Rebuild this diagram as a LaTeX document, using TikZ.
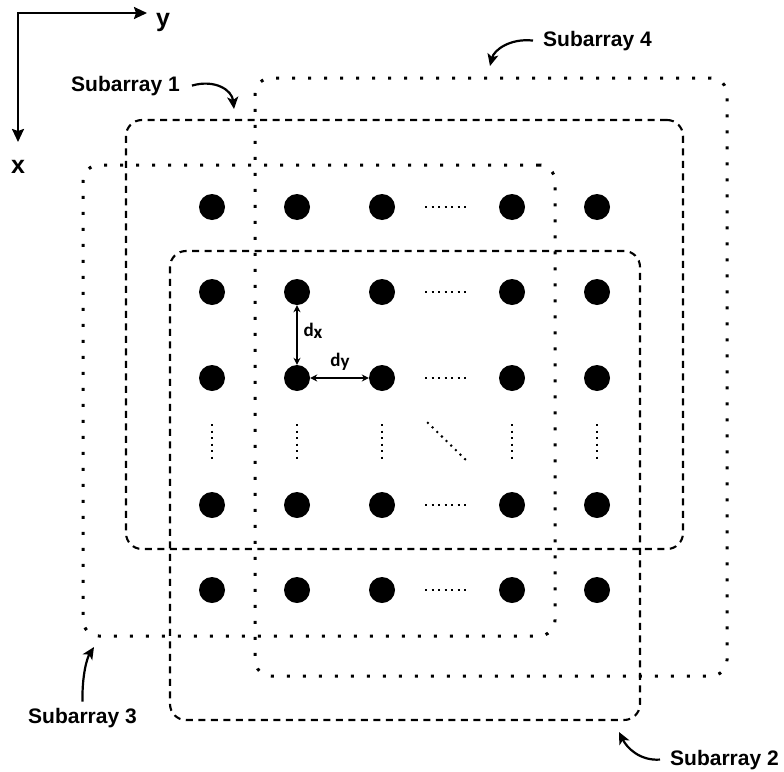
\documentclass[tikz,border=0pt]{standalone}
\usepackage{fontspec}
\setmainfont{Liberation Sans}
\newfontfamily\calfont{Carlito}
\usetikzlibrary{arrows.meta}

\begin{document}
\begin{tikzpicture}[x=1pt,y=-1pt,
  element/.style={circle,fill=black,inner sep=0pt,minimum size=26pt},
  dotbox/.style={draw,line width=3pt,dash pattern=on 3pt off 13pt,
    rounded corners=16pt,inner sep=0pt},
  dashbox/.style={draw,line width=2.1pt,dash pattern=on 7pt off 5.5pt,
    rounded corners=16pt,inner sep=0pt},
  gapdots/.style={line width=2pt,dash pattern=on 2pt off 4.5pt},
  boxlabel/.style={inner sep=0pt,anchor=base west,
    font=\fontsize{21}{25}\selectfont\bfseries},
  axislabel/.style={inner sep=0pt,anchor=base west,
    font=\fontsize{25}{29}\selectfont\bfseries},
  spacing/.style={inner sep=0pt,font=\fontsize{19}{21}\selectfont\calfont\bfseries},
  pointer/.style={line width=2.2pt,-{Stealth[length=12pt,width=11pt,inset=3pt]}},
  axis/.style={line width=2.2pt,{Stealth[length=13pt,width=12pt,inset=2pt]}-{Stealth[length=13pt,width=12pt,inset=2pt]}},
  gaparrow/.style={line width=1.3pt,{Stealth[length=7pt,width=7pt]}-{Stealth[length=7pt,width=7pt]}}
]
\useasboundingbox (0,0) rectangle (784,771);

% coordinate axes
\coordinate (origin) at (18,13);
\coordinate (ytip) at (147,13);
\coordinate (xtip) at (18,142);
\draw[axis] (ytip) -- (origin) -- (xtip);
\node[axislabel] (ylab) at (156,26) {y};
\node[axislabel] (xlab) at (11,173) {x};

% subarray frames
\node[dotbox,minimum width=472pt,minimum height=598pt] (sub4) at (491,377) {};
\node[dashbox,minimum width=557pt,minimum height=429pt] (sub1) at (404.5,334.5) {};
\node[dotbox,minimum width=472pt,minimum height=471pt] (sub3) at (319,400.5) {};
\node[dashbox,minimum width=470pt,minimum height=469pt] (sub2) at (405,485.5) {};

% array elements
\foreach \r/\yy in {1/207,2/292,3/378,4/505,5/590}{
  \foreach \c/\xx in {1/212,2/297,3/382,4/512,5/597}{
    \node[element] (d\r\c) at (\xx,\yy) {};
  }
}

% omitted columns
\foreach \r in {1,2,3,4,5}{
  \draw[gapdots,shorten <=30pt,shorten >=32pt] (d\r3) -- (d\r4);
}
% omitted rows
\foreach \c in {1,2,3,4,5}{
  \draw[gapdots,shorten <=33pt,shorten >=29pt] (d3\c) -- (d4\c);
}
\draw[gapdots,shorten <=50pt,shorten >=48pt] (d33) -- (d44);

% element spacing
\draw[gaparrow] (d22) -- (d32);
\draw[gaparrow] (d32) -- (d33);
\node[spacing] (dx) at (313,331) {d\raisebox{-1.5pt}{x}};
\node[spacing] (dy) at (340,362) {d\raisebox{-1.5pt}{y}};

% subarray labels
\node[boxlabel] (lab1) at (71,91) {Subarray 1};
\node[boxlabel] (lab4) at (543,46) {Subarray 4};
\node[boxlabel] (lab3) at (28,723) {Subarray 3};
\node[boxlabel] (lab2) at (670,765) {Subarray 2};

\coordinate (tip1) at (234,109);
\coordinate (tip4) at (490,66);
\coordinate (tip3) at (94,647);
\coordinate (tip2) at (619,732);

\draw[pointer] ([xshift=12pt]lab1.east) .. controls (215,79) and (232,90) .. (tip1);
\draw[pointer] ([xshift=-10pt]lab4.west) .. controls (510,38) and (494,50) .. (tip4);
\draw[pointer] ([yshift=6pt]lab3.north) .. controls (82,675) and (87,658) .. (tip3);
\draw[pointer] ([xshift=-10pt]lab2.west) .. controls (640,761) and (627,748) .. (tip2);
\end{tikzpicture}
\end{document}
